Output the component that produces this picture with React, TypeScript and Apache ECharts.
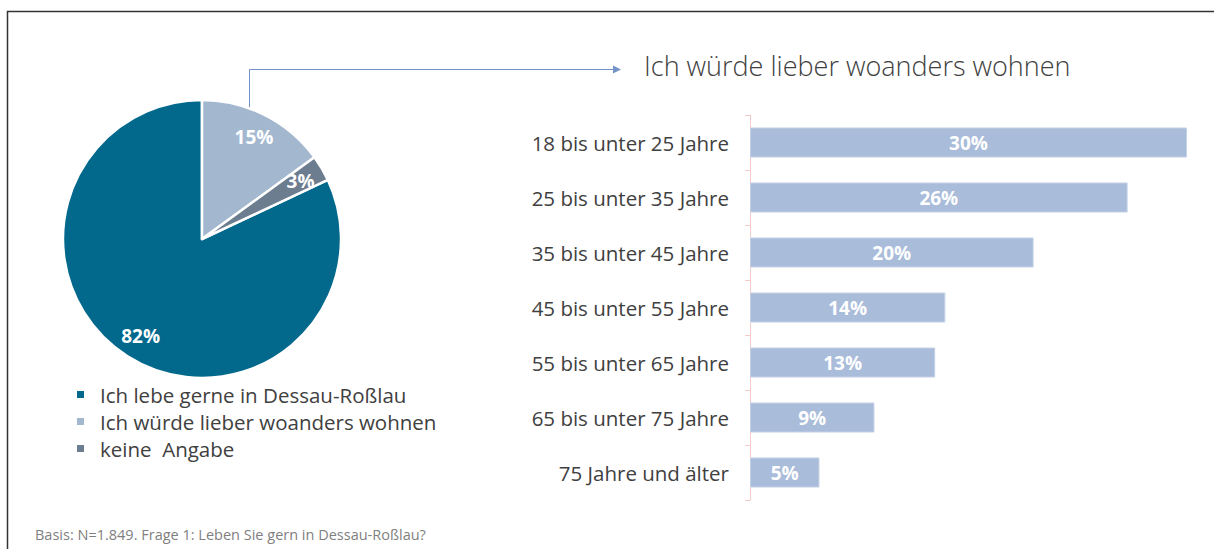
import React, { useEffect, useRef } from "react";
import * as echarts from "echarts";

const pieNames = ["Ich lebe gerne in Dessau-Roßlau", "Ich würde lieber woanders wohnen", "keine  Angabe"];
const pieValues = [82, 15, 3];
const pieColors = ["#02688C", "#A3B7CF", "#6C7D90"];

const ageGroups = [
  "18 bis unter 25 Jahre",
  "25 bis unter 35 Jahre",
  "35 bis unter 45 Jahre",
  "45 bis unter 55 Jahre",
  "55 bis unter 65 Jahre",
  "65 bis unter 75 Jahre",
  "75 Jahre und älter",
];
const ageValues = [30.2, 26.1, 19.6, 13.5, 12.8, 8.6, 4.8];

const barTitle = "Ich würde lieber woanders wohnen";
const footnote = "Basis: N=1.849. Frage 1: Leben Sie gern in Dessau-Roßlau?";

const FONT = "'Open Sans', 'Noto Sans', sans-serif";

export default function App() {
  const ref = useRef<HTMLDivElement>(null);
  useEffect(() => {
    if (!ref.current) return;
    const chart = echarts.init(ref.current, null, { renderer: "svg" });
    const arrowColor = "#7393C6";
    chart.setOption({
      animation: false,
      backgroundColor: "#ffffff",
      textStyle: { fontFamily: FONT },
      legend: {
        orient: "vertical",
        left: 70,
        top: 379,
        itemWidth: 9,
        itemHeight: 9,
        itemGap: 6,
        icon: "rect",
        data: pieNames,
        selectedMode: false,
        textStyle: { fontSize: 20.5, color: "#404040", fontFamily: FONT, lineHeight: 18, padding: [0, 0, 0, 10] },
      },
      grid: { left: 750, top: 115, height: 385, width: 463 },
      xAxis: { type: "value", min: 0, max: 32, show: false },
      yAxis: {
        type: "category",
        inverse: true,
        data: ageGroups,
        axisLine: { show: true, lineStyle: { color: "#F7CACA", width: 1 } },
        axisTick: { show: true, length: 5, lineStyle: { color: "#F7CACA" } },
        axisLabel: { color: "#404040", fontSize: 20.5, margin: 21, fontFamily: FONT },
      },
      series: [
        {
          type: "pie",
          center: [202, 239],
          radius: [0, 139],
          startAngle: 25.2,
          clockwise: true,
          silent: true,
          label: { show: false },
          labelLine: { show: false },
          itemStyle: { borderColor: "#ffffff", borderWidth: 2.5 },
          data: pieNames.map((n, i) => ({ name: n, value: pieValues[i], itemStyle: { color: pieColors[i] } })),
        },
        {
          type: "pie",
          center: [202, 239],
          radius: [84, 139],
          startAngle: 25.2,
          clockwise: true,
          silent: true,
          labelLine: { show: false },
          label: {
            show: true,
            position: "inside",
            formatter: (p: any) => p.value + "%",
            color: "#ffffff",
            fontWeight: "bold",
            fontSize: 19,
            fontFamily: FONT,
          },
          itemStyle: { color: "rgba(0,0,0,0)", borderWidth: 0 },
          data: pieNames.map((n, i) => ({ name: n, value: pieValues[i] })),
        },
        {
          type: "bar",
          data: ageValues,
          barWidth: 30,
          silent: true,
          itemStyle: { color: "#A9BCD9", borderColor: "#C3D1E6", borderWidth: 1 },
          label: {
            show: true,
            position: "inside",
            formatter: (p: any) => Math.round(p.value) + "%",
            color: "#ffffff",
            fontWeight: "bold",
            fontSize: 19,
            fontFamily: FONT,
          },
        },
      ],
      graphic: [
        { type: "line", shape: { x1: 7, y1: 11.5, x2: 1214, y2: 11.5 }, style: { stroke: "#333333", lineWidth: 1.5 } },
        { type: "line", shape: { x1: 7.5, y1: 11, x2: 7.5, y2: 549 }, style: { stroke: "#333333", lineWidth: 1.5 } },
        {
          type: "polyline",
          shape: { points: [[249.5, 117], [249.5, 69.5], [614, 69.5]] },
          style: { stroke: arrowColor, lineWidth: 1, fill: null },
        },
        {
          type: "polygon",
          shape: { points: [[613, 65.5], [621, 69.5], [613, 73.5]] },
          style: { fill: arrowColor },
        },
        {
          type: "text",
          left: 644,
          top: 52,
          style: { text: barTitle, fontSize: 27, fontWeight: 300, fill: "#404040", fontFamily: FONT },
        },
        {
          type: "text",
          left: 35,
          top: 527,
          style: { text: footnote, fontSize: 14.5, fill: "#7F7F7F", fontFamily: FONT },
        },
      ],
    });
    return () => chart.dispose();
  }, []);
  return <div ref={ref} style={{ position: "fixed", left: 0, top: 0, width: 1214, height: 549 }} />;
}
